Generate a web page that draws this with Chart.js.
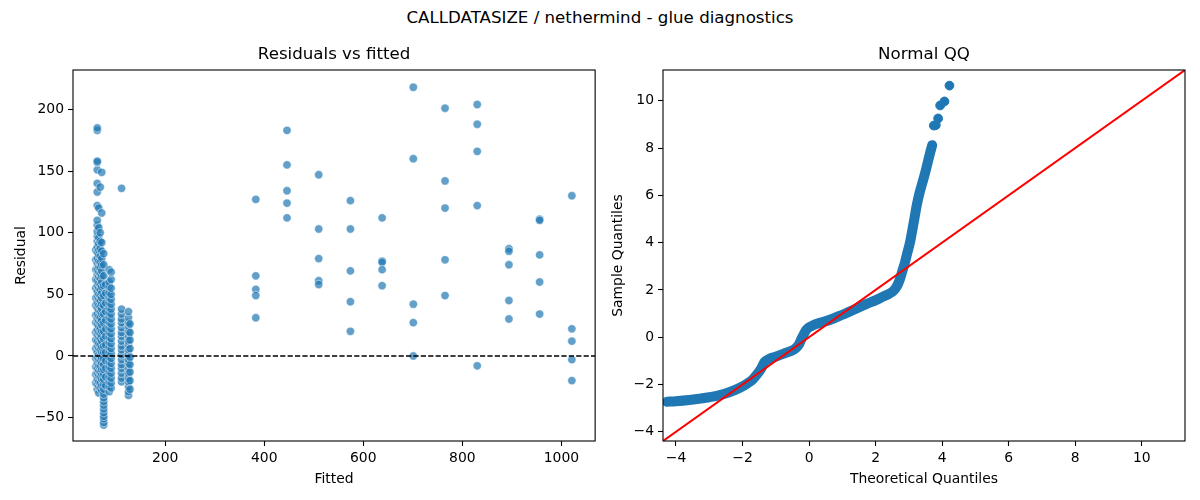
<!DOCTYPE html>
<html>
<head>
<meta charset="utf-8">
<title>CALLDATASIZE / nethermind - glue diagnostics</title>
<script src="https://cdn.jsdelivr.net/npm/chart.js@4.4.1/dist/chart.umd.min.js"></script>
<style>
  body { margin: 0; background: #fff; }
  #wrap { position: relative; width: 1200px; height: 500px; font-family: "DejaVu Sans", sans-serif; }
  #suptitle { position: absolute; left: 0; top: 8px; width: 1200px; text-align: center;
              font-size: 16.67px; line-height: 20px; color: #000; }
  canvas { position: absolute; top: 0; }
</style>
</head>
<body>
<div id="wrap">
  <div id="suptitle">CALLDATASIZE / nethermind - glue diagnostics</div>
  <canvas id="resid" width="600" height="500" style="left:0"></canvas>
  <canvas id="qq" width="600" height="500" style="left:600px"></canvas>
</div>
<script>
// --- residuals vs fitted: dense low-fitted columns
const clusterFitted = [60, 63, 66, 69, 72, 76, 80, 87, 91, 112, 126, 129];
const clusterResiduals = [
  [-22, -15, -9, -2, 6, 13, 19, 27, 33, 41, 47, 55, 62, 70, 78, 86],
  [-27, -23, -19, -14, -10, -6, -1, 3, 8, 12, 17, 21, 26, 30, 34, 39, 43, 48, 52, 57, 61, 66, 70, 75, 79, 84, 88, 93, 97, 101, 106, 110, 122, 133, 140, 151, 157, 158, 183, 185],
  [-30, -25, -21, -16, -12, -8, -3, 1, 6, 10, 15, 19, 24, 28, 32, 37, 41, 46, 50, 55, 59, 64, 68, 72, 77, 82, 86, 91, 96, 104, 120],
  [-26, -22, -17, -13, -8, -4, 0, 5, 9, 14, 18, 22, 27, 31, 36, 40, 45, 49, 54, 58, 63, 67, 72, 76, 81, 87, 93, 100, 137],
  [-28, -24, -19, -15, -11, -6, -2, 3, 7, 12, 16, 20, 25, 29, 34, 38, 42, 47, 51, 56, 60, 65, 69, 74, 79, 85, 92, 116, 149],
  [-56, -54, -51, -49, -46, -43, -40, -37, -34, -31, -27, -23, -19, -15, -11, -7, -2, 3, 8, 14, 20, 27, 34, 41, 49, 57, 65, 74, 83],
  [-24, -17, -10, -4, 3, 9, 16, 22, 29, 36, 43, 51, 58],
  [-29, -25, -21, -17, -13, -9, -5, -1, 3, 7, 11, 15, 19, 23, 27, 31, 35, 39, 43, 47, 51, 56, 60, 70],
  [-26, -22, -18, -14, -10, -6, -2, 2, 6, 10, 14, 18, 22, 26, 30, 34, 38, 42, 46, 50, 55, 62, 68],
  [-21, -18, -14, -10, -7, -3, 1, 5, 8, 12, 16, 19, 23, 27, 30, 34, 38, 136],
  [-32, -29, -25, -21, -18, -14, -10, -6, -3, 1, 5, 9, 12, 16, 20, 24, 27, 31, 36],
  [-27, -20, -13, -7, -1, 6, 13, 19, 26]
];
// sparse high-fitted columns
const sparseFitted = [383, 446, 510, 574, 638, 701, 765, 830, 894, 956, 1021];
const sparseResiduals = [
  [127, 65, 54, 49, 31],
  [183, 155, 134, 124, 112],
  [147, 103, 79, 61, 58],
  [126, 103, 69, 44, 20],
  [112, 77, 76, 70, 57],
  [218, 160, 42, 27, 0],
  [201, 142, 120, 78, 49],
  [204, 188, 166, 122, -8],
  [87, 85, 74, 45, 30],
  [111, 110, 82, 60, 34],
  [130, 22, 12, -3, -20]
];
const fittedLimits = [14, 1068];
const residualLimits = [-69, 232];
const fittedTicks = [200, 400, 600, 800, 1000];
const residualTicks = [-50, 0, 50, 100, 150, 200];
const zeroLevel = 0;

// --- normal QQ: dense band (theoretical, sample) and the lone top points
const qqTheoretical = [-4.27, -4.0, -3.6, -3.28, -3.0, -2.68, -2.4, -2.08, -1.85, -1.69, -1.55, -1.43, -1.34, -1.2, -1.09, -0.9, -0.69, -0.5, -0.39, -0.3, -0.24, -0.16, -0.09, 0.0, 0.16, 0.35, 0.51, 0.75, 1.0, 1.25, 1.51, 1.75, 2.01, 2.2, 2.41, 2.55, 2.65, 2.73, 2.8, 2.88, 2.96, 3.04, 3.1, 3.17, 3.24, 3.32, 3.4, 3.48, 3.56, 3.63, 3.7];
const qqSample      = [-2.73, -2.71, -2.66, -2.6, -2.54, -2.45, -2.33, -2.14, -1.95, -1.78, -1.55, -1.3, -1.05, -0.92, -0.86, -0.77, -0.66, -0.56, -0.45, -0.3, -0.1, 0.12, 0.3, 0.42, 0.53, 0.62, 0.68, 0.8, 0.95, 1.1, 1.27, 1.42, 1.57, 1.7, 1.84, 1.98, 2.18, 2.45, 2.78, 3.15, 3.6, 4.05, 4.5, 5.05, 5.6, 6.1, 6.5, 6.9, 7.35, 7.75, 8.12];
const qqTopTheoretical = [3.75, 3.81, 3.88, 3.94, 4.07, 4.22];
const qqTopSample      = [8.95, 8.97, 9.25, 9.8, 9.97, 10.64];
const qqLimits = [-4.39, 11.3];
const qqTicks = [-4, -2, 0, 2, 4, 6, 8, 10];

const tickFont = { family: 'DejaVu Sans', size: 13.9 };
const labelFont = { family: 'DejaVu Sans', size: 13.9 };
const titleFont = { family: 'DejaVu Sans', size: 16.67, weight: 'normal' };
const fmt = v => (v < 0 ? '\u2212' + Math.abs(v) : String(v));

Chart.defaults.color = '#000';
Chart.defaults.font.family = 'DejaVu Sans';

// axes frame + optional dashed horizontal reference line
const framePlugin = {
  id: 'frame',
  afterDatasetsDraw(chart, args, opts) {
    const { ctx, chartArea: a, scales } = chart;
    ctx.save();
    if (opts.hline !== undefined) {
      const y = scales.y.getPixelForValue(opts.hline);
      ctx.strokeStyle = '#000';
      ctx.lineWidth = 1.4;
      ctx.setLineDash([5.2, 2.2]);
      ctx.beginPath();
      ctx.moveTo(a.left, y);
      ctx.lineTo(a.right, y);
      ctx.stroke();
      ctx.setLineDash([]);
    }
    ctx.strokeStyle = '#000';
    ctx.lineWidth = 1.1;
    ctx.strokeRect(a.left, a.top, a.right - a.left, a.bottom - a.top);
    ctx.restore();
  }
};

function axis(limits, ticks, label, size, titlePad) {
  const horizontal = size.height !== undefined;
  return {
    type: 'linear',
    min: limits[0],
    max: limits[1],
    afterBuildTicks: s => { s.ticks = ticks.map(v => ({ value: v })); },
    afterFit: s => { if (horizontal) s.height = size.height; else s.width = size.width; },
    grid: { drawOnChartArea: false, drawTicks: true, tickLength: 5, tickColor: '#000', tickWidth: 1.1 },
    border: { display: false },
    ticks: { color: '#000', font: tickFont, padding: 4, maxRotation: 0, autoSkip: false, callback: fmt },
    title: { display: true, text: label, color: '#000', font: labelFont, padding: titlePad }
  };
}

function baseOptions(title, padRight, scales, frameOpts) {
  return {
    responsive: false,
    animation: false,
    events: [],
    layout: { padding: { left: 0, right: padRight, top: 0, bottom: 0 } },
    plugins: {
      legend: { display: false },
      tooltip: { enabled: false },
      title: { display: true, text: title, color: '#000', font: titleFont, fullSize: false,
               padding: { top: 45, bottom: 5 } },
      frame: frameOpts
    },
    scales: scales
  };
}

// residual points
const residPoints = [];
clusterFitted.forEach((f, i) => clusterResiduals[i].forEach(r => residPoints.push({ x: f, y: r })));
sparseFitted.forEach((f, i) => sparseResiduals[i].forEach(r => residPoints.push({ x: f, y: r })));

new Chart(document.getElementById('resid'), {
  type: 'scatter',
  data: {
    datasets: [{
      data: residPoints,
      pointRadius: 4.17,
      backgroundColor: 'rgba(31,119,180,0.7)',
      borderColor: 'rgba(255,255,255,0.7)',
      borderWidth: 0.7
    }]
  },
  options: baseOptions('Residuals vs fitted', 3, {
    x: axis(fittedLimits, fittedTicks, 'Fitted', { height: 59 }, { top: 0, bottom: 12 }),
    y: axis(residualLimits, residualTicks, 'Residual', { width: 73 }, { top: 13.5, bottom: 0 })
  }, { hline: zeroLevel }),
  plugins: [framePlugin]
});

// QQ
const qqBand = qqTheoretical.map((x, i) => ({ x: x, y: qqSample[i] }));
const qqTop = qqTopTheoretical.map((x, i) => ({ x: x, y: qqTopSample[i] }));
const qqLine = qqLimits.map(v => ({ x: v, y: v }));

new Chart(document.getElementById('qq'), {
  type: 'scatter',
  data: {
    datasets: [
      { data: qqLine, showLine: true, borderColor: '#ff0000', borderWidth: 2, pointRadius: 0 },
      { data: qqTop, pointRadius: 4.4, backgroundColor: '#1f77b4', borderColor: '#1f77b4', borderWidth: 1 },
      { data: qqBand, showLine: true, borderColor: '#1f77b4', borderWidth: 10, pointRadius: 0,
        cubicInterpolationMode: 'monotone', borderCapStyle: 'round', borderJoinStyle: 'round' }
    ]
  },
  options: baseOptions('Normal QQ', 15, {
    x: axis(qqLimits, qqTicks, 'Theoretical Quantiles', { height: 59 }, { top: 0, bottom: 12 }),
    y: axis(qqLimits, qqTicks, 'Sample Quantiles', { width: 63 }, { top: 10.5, bottom: 0 })
  }, {}),
  plugins: [framePlugin]
});
</script>
</body>
</html>
